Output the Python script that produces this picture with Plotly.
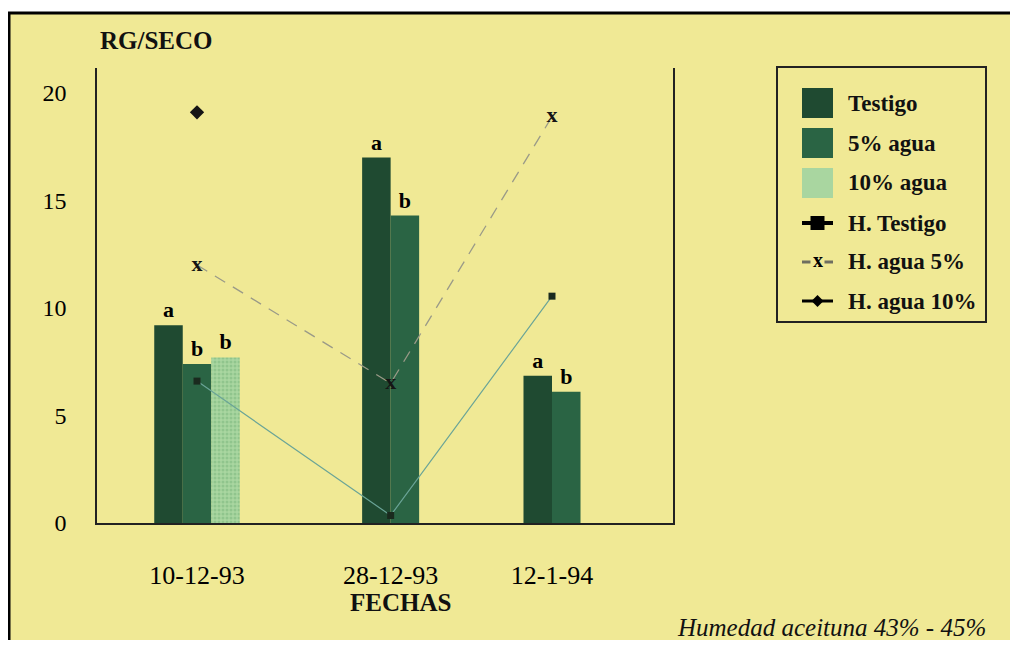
import pandas as pd
import plotly.graph_objects as go

# datos
fechas = ["10-12-93", "28-12-93", "12-1-94"]
testigo = [9.2, 17.0, 6.85]
agua5 = [7.4, 14.3, 6.1]
agua10 = [7.7, None, None]
letras_testigo = ["a", "a", "a"]
letras_agua5 = ["b", "b", "b"]
letras_agua10 = ["b", "", ""]
h_testigo = [6.6, 0.35, 10.55]
h_agua5 = [12.0, 6.5, 18.9]
h_agua10 = [19.1, None, None]
y_ticks = [0, 5, 10, 15, 20]

fd = pd.to_datetime(fechas, format="%d-%m-%y")
dias = [int(v) for v in (fd - fd[0]).days]

# la pagina deja 8 px de margen alrededor de la figura
W, H = 1002, 632
OFF = 8
BG = "#f0e995"
SERIF = "Liberation Serif, Times New Roman, serif"


def px(x):
    return (x - OFF) / W


def py(y):
    return 1 - (y - OFF) / H


series = [
    ("Testigo", testigo, letras_testigo, dict(color="#1f4a31")),
    ("5% agua", agua5, letras_agua5, dict(color="#2a6444")),
    (
        "10% agua",
        agua10,
        letras_agua10,
        dict(
            color="#a9d6a0",
            pattern=dict(shape=".", fgcolor="#78b47a", size=4, solidity=0.45),
        ),
    ),
]

bar_w = 2.65
offsets = {name: [0.0] * len(dias) for name, *_ in series}
for i in range(len(dias)):
    present = [s[0] for s in series if s[1][i] is not None]
    for k, name in enumerate(present):
        offsets[name][i] = -len(present) * bar_w / 2 + k * bar_w

fig = go.Figure()

for name, vals, letras, marker in series:
    fig.add_trace(
        go.Bar(
            x=dias,
            y=vals,
            width=bar_w,
            offset=offsets[name],
            name=name,
            marker=dict(line=dict(width=0), **marker),
            text=letras,
            textposition="outside",
            textfont=dict(family=SERIF, size=22, color="black", weight="bold"),
            cliponaxis=False,
            showlegend=False,
        )
    )

fig.add_trace(
    go.Scatter(
        x=dias,
        y=h_testigo,
        mode="lines+markers",
        name="H. Testigo",
        line=dict(color="#6aa497", width=1.2),
        marker=dict(symbol="square", size=7, color="#1a2a1e"),
        showlegend=False,
    )
)
fig.add_trace(
    go.Scatter(
        x=dias,
        y=h_agua5,
        mode="lines+text",
        name="H. agua 5%",
        text=["x"] * len(dias),
        textposition="middle center",
        textfont=dict(family=SERIF, size=22, color="#151515", weight="bold"),
        line=dict(color="#9a9a88", width=1.3, dash="12px,9px"),
        showlegend=False,
    )
)
fig.add_trace(
    go.Scatter(
        x=dias,
        y=h_agua10,
        mode="lines+markers",
        name="H. agua 10%",
        line=dict(color="#151515", width=1.2),
        marker=dict(symbol="diamond", size=11, color="#151515"),
        showlegend=False,
    )
)

# escala: dia 0 en x=197 px, dia 33 en x=552 px
ppd = (552 - 197) / dias[-1]
fig.update_xaxes(
    domain=[px(97), px(673)],
    range=[(97 - 197) / ppd, (673 - 197) / ppd],
    tickvals=dias,
    ticktext=fechas,
    tickfont=dict(family=SERIF, size=26, color="black"),
    ticklabelstandoff=28,
    automargin=False,
    showgrid=False,
    zeroline=False,
    showline=True,
    linecolor="#222",
    linewidth=1.5,
)
fig.update_yaxes(
    domain=[py(523), py(68)],
    range=[0, (523 - 68) / 21.5],
    tickvals=y_ticks,
    tickfont=dict(family=SERIF, size=24, color="black"),
    ticklabelstandoff=24,
    automargin=False,
    showgrid=False,
    zeroline=False,
    showline=True,
    mirror=True,
    linecolor="#222",
    linewidth=1.5,
)


def pline(x0, y0, x1, y1, color, width):
    return dict(type="line", xref="paper", yref="paper", x0=px(x0), x1=px(x1),
                y0=py(y0), y1=py(y1), line=dict(color=color, width=width))


def prect(x0, y0, x1, y1, fill, line=None):
    return dict(type="rect", xref="paper", yref="paper", x0=px(x0), x1=px(x1),
                y0=py(y0), y1=py(y1), fillcolor=fill, line=line or dict(width=0))


def ptext(x, y, text, size, bold=False, xanchor="center", yanchor="middle", color="#111"):
    return dict(x=px(x), y=py(y), xref="paper", yref="paper", text=text,
                xanchor=xanchor, yanchor=yanchor, showarrow=False,
                font=dict(family=SERIF, size=size, color=color,
                          weight="bold" if bold else "normal"))


shapes = [
    prect(0, 0, 1020, 12, "white"),
    pline(8, 13, 1020, 13, "black", 3),
    pline(9, 12, 9, 660, "black", 3),
    # caja de leyenda
    prect(777, 67, 986, 322, "rgba(0,0,0,0)", dict(color="#222", width=2)),
]

leg_x0, leg_x1 = 802, 833
leg_mid = (leg_x0 + leg_x1) / 2
rows_y = [103, 143, 183, 223, 262, 301]
annotations = []

# cuadros de las barras
for (name, vals, letras, marker), yc in zip(series, rows_y[:3]):
    shapes.append(prect(leg_x0, yc - 15, leg_x1, yc + 15, marker["color"]))

# H. Testigo
yc = rows_y[3]
shapes.append(pline(leg_x0, yc, leg_x1, yc, "black", 4))
shapes.append(prect(leg_mid - 7, yc - 7, leg_mid + 7, yc + 7, "black"))
# H. agua 5%
yc = rows_y[4]
shapes.append(pline(leg_x0, yc, leg_mid - 7, yc, "#6e6e60", 3))
shapes.append(pline(leg_mid + 7, yc, leg_x1, yc, "#6e6e60", 3))
annotations.append(ptext(leg_mid, yc - 2, "x", 20, bold=True, color="black"))
# H. agua 10%
yc = rows_y[5]
shapes.append(pline(leg_x0, yc, leg_x1, yc, "black", 3))
shapes.append(dict(type="path", xref="paper", yref="paper",
                   path=f"M {px(leg_mid - 6)} {py(yc)} L {px(leg_mid)} {py(yc - 6)} "
                        f"L {px(leg_mid + 6)} {py(yc)} L {px(leg_mid)} {py(yc + 6)} Z",
                   fillcolor="black", line=dict(width=0)))

leg_names = [s[0] for s in series] + ["H. Testigo", "H. agua 5%", "H. agua 10%"]
for name, yc in zip(leg_names, rows_y):
    annotations.append(ptext(846, yc, name, 23, bold=True, xanchor="left"))

annotations += [
    ptext(98, 40, "RG/SECO", 25, bold=True, xanchor="left"),
    ptext(400, 602, "FECHAS", 25, bold=True),
    ptext(988, 627, "<i>Humedad aceituna 43% - 45%</i>", 25, xanchor="right"),
]

fig.update_layout(
    width=W,
    height=H,
    margin=dict(l=0, r=0, t=0, b=0),
    paper_bgcolor=BG,
    plot_bgcolor="rgba(0,0,0,0)",
    barmode="overlay",
    shapes=shapes,
    annotations=annotations,
    showlegend=False,
    font=dict(family=SERIF, color="black"),
)

fig.write_html("out.html")
